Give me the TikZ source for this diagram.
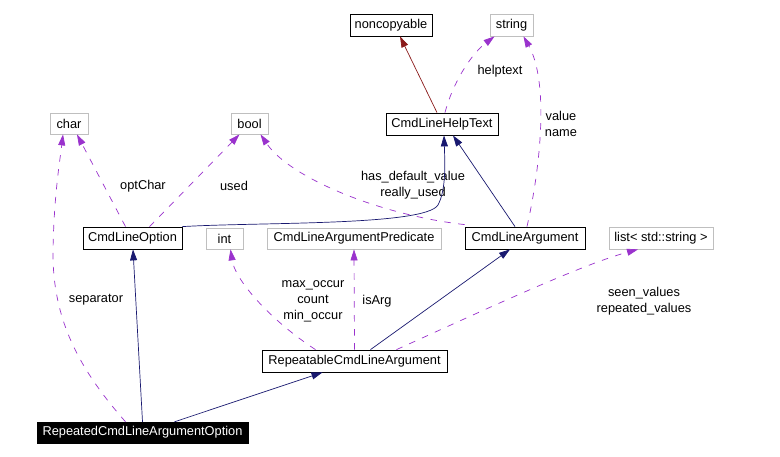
\documentclass[tikz,border=0pt]{standalone}
\usepackage{fontspec}
\setmainfont{Liberation Sans}
\usetikzlibrary{arrows.meta}
\definecolor{navy}{HTML}{191970}
\definecolor{purp}{HTML}{9A32CD}
\definecolor{dred}{HTML}{8B1A1A}
\definecolor{gbord}{HTML}{BFBFBF}
\begin{document}
\begin{tikzpicture}[x=1pt,y=-1pt,
  every node/.style={font=\fontsize{12.8}{16}\selectfont, inner sep=0pt, align=center},
  cls/.style={draw=black, line width=0.8pt, fill=white, minimum height=22pt},
  ext/.style={draw=gbord, line width=0.8pt, fill=white, minimum height=22pt},
  focus/.style={draw=black, fill=black, text=white, minimum height=21pt},
  tip/.style={-{Triangle[length=11pt,width=7pt]}},
  inh/.style={tip, draw=navy, line width=0.7pt},
  priv/.style={tip, draw=dred, line width=0.7pt},
  use/.style={tip, draw=purp, line width=0.7pt, dash pattern=on 6.5pt off 7.5pt},
  lbl/.style={}
]
\useasboundingbox (0,0) rectangle (780,457);
\fill[white] (0,0) rectangle (780,457);

% nodes
\node[cls, minimum width=82pt] (nc) at (391,25) {noncopyable};
\node[ext, minimum width=43pt] (str) at (511.5,25) {string};
\node[cls, minimum width=112pt] (hlp) at (442,124) {CmdLineHelpText};
\node[ext, minimum width=38pt, minimum height=21pt] (chr) at (69,123.5) {char};
\node[ext, minimum width=37pt, minimum height=21pt] (bool) at (249.5,123.5) {bool};
\node[cls, minimum width=99pt] (opt) at (132.5,238) {CmdLineOption};
\node[ext, minimum width=37pt, minimum height=21pt] (int) at (224.5,238.5) {int};
\node[ext, minimum width=174pt, minimum height=21pt] (pred) at (354,238.5) {CmdLineArgumentPredicate};
\node[cls, minimum width=120pt] (arg) at (525,238) {CmdLineArgument};
\node[ext, minimum width=104pt] (lst) at (661,238) {list< std::string >};
\node[cls, minimum width=185pt] (rep) at (354.5,361) {RepeatableCmdLineArgument};
\node[focus, minimum width=211pt] (ropt) at (142.5,432.5) {RepeatedCmdLineArgumentOption};

% labels
\node[lbl] (l1) at (500,71) {helptext};
\node[lbl] (l2) at (561,124) {value\\name};
\node[lbl] (l3) at (143,186) {optChar};
\node[lbl] (l4) at (234,186) {used};
\node[lbl] (l5) at (413,185.5) {has\_default\_value\\really\_used};
\node[lbl] (l6) at (313,301) {max\_occur\\count\\min\_occur};
\node[lbl] (l7) at (377,301) {isArg};
\node[lbl] (l8) at (644,301) {seen\_values\\repeated\_values};
\node[lbl] (l9) at (96,300) {separator};

% edges
\draw[priv] ([xshift=-5pt]hlp.north) -- ([xshift=9pt]nc.south);
\draw[use] ([xshift=3pt]hlp.north) .. controls (452,85) and (470,55) .. ([xshift=-17pt]str.south);
\draw[use] ([xshift=2pt]arg.north) .. controls (542,160) and (548,80) .. ([xshift=12pt]str.south);
\draw[inh] (opt.north east) .. controls (260,222) and (425,226) .. (438,205) .. controls (446,190) and (445,165) .. ([xshift=2pt]hlp.south);
\draw[inh] ([xshift=-10pt]arg.north) -- ([xshift=11pt]hlp.south);
\draw[use] ([xshift=-7pt]opt.north) -- ([xshift=8pt]chr.south);
\draw[use] ([xshift=17pt]opt.north) -- ([xshift=-10pt]bool.south);
\draw[use] ([yshift=2pt]arg.north west) .. controls (380,215) and (290,178) .. ([xshift=11pt]bool.south);
\draw[use] ([xshift=-17pt]ropt.north) .. controls (80,370) and (52,320) .. (53,250) .. controls (54,195) and (60,160) .. ([xshift=-6pt]chr.south);
\draw[inh] ([xshift=0pt]ropt.north) -- ([xshift=0.5pt]opt.south);
\draw[inh] ([xshift=32pt]ropt.north) -- ([xshift=-32pt]rep.south);
\draw[use] ([xshift=-39pt]rep.north) .. controls (270,320) and (235,280) .. ([xshift=6pt]int.south);
\draw[use] (rep.north) -- (pred.south);
\draw[inh] ([xshift=16pt]rep.north) -- ([xshift=-15pt]arg.south);
\draw[use] ([xshift=42pt]rep.north) .. controls (480,312) and (580,265) .. ([xshift=-23pt]lst.south);
\end{tikzpicture}
\end{document}
